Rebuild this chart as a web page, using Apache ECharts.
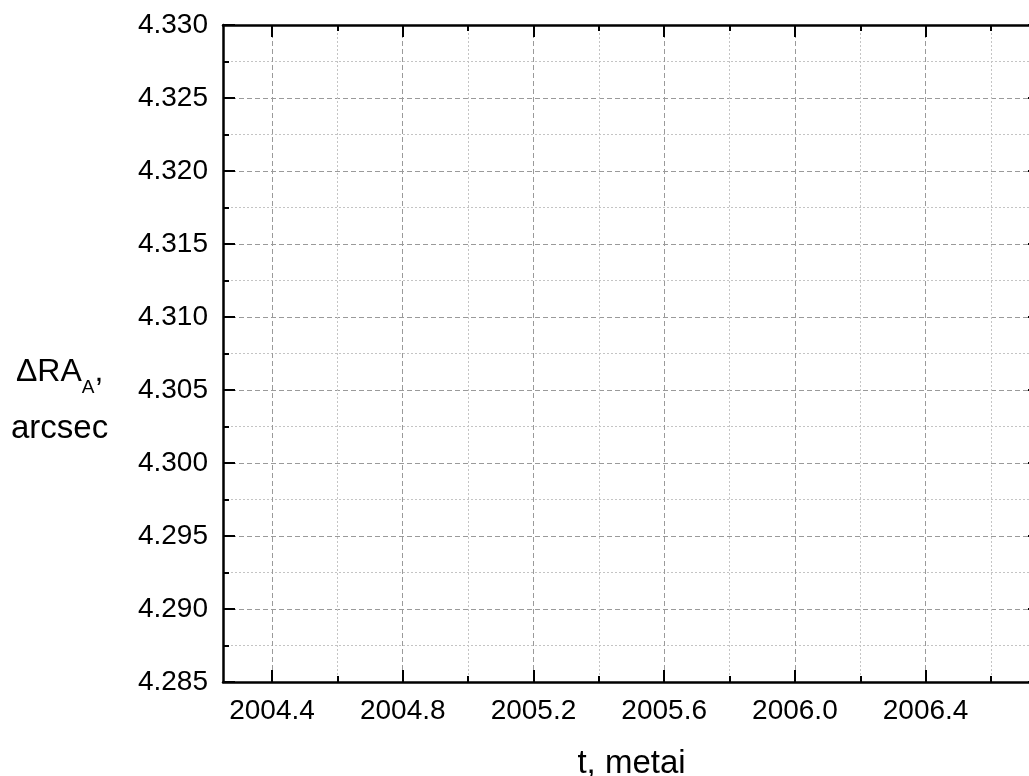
<!DOCTYPE html>
<html>
<head>
<meta charset="utf-8">
<script src="https://cdn.jsdelivr.net/npm/echarts@6/dist/echarts.min.js"></script>
<style>
html,body{margin:0;padding:0;background:#fff;}
#c{width:1029px;height:776px;}
</style>
</head>
<body>
<div id="c"></div>
<script>
// ---- data ----
const xRange = [2004.25, 2006.75];
const xMajorTicks = [2004.4, 2004.8, 2005.2, 2005.6, 2006.0, 2006.4];
const xMinorTicks = [2004.6, 2005.0, 2005.4, 2005.8, 2006.2, 2006.6];
const yRange = [4.285, 4.330];
const yStep = 0.005;
const xTitle = 't, metai';
const yTitleMain = 'ΔRA';
const yTitleSub = 'A';
const yTitleUnit = 'arcsec';
const seriesData = []; // the reference chart shows no data points

const FONT = 'Liberation Sans, Arial, sans-serif';
const chart = echarts.init(document.getElementById('c'), null, {renderer: 'canvas'});

const axisLineStyle = {show: true, onZero: false, lineStyle: {color: '#000', width: 2.5}};
const majorGrid = {show: true, lineStyle: {color: '#9a9a9a', width: 1, type: [5, 3]}};
const minorGrid = {show: true, lineStyle: {color: '#c4c4c4', width: 1, type: [2, 2]}};

function xAxisDef(pos, ticks, len, withLabels, split, line) {
  return {
    type: 'value', position: pos, min: xRange[0], max: xRange[1],
    axisLine: line ? axisLineStyle : {show: false, onZero: false},
    axisTick: {show: true, inside: true, length: len, customValues: ticks,
      lineStyle: {color: '#000', width: 2}},
    axisLabel: withLabels ? {show: true, customValues: ticks, margin: 15,
      fontFamily: FONT, fontSize: 28, color: '#000',
      formatter: v => v.toFixed(1)} : {show: false},
    splitLine: split || {show: false},
    name: pos === 'bottom' && withLabels ? xTitle : '',
    nameLocation: 'middle', nameGap: 65,
    nameTextStyle: {fontFamily: FONT, fontSize: 33, color: '#000'}
  };
}

function yAxisDef(pos, withLabels) {
  return {
    type: 'value', position: pos, min: yRange[0], max: yRange[1], interval: yStep,
    axisLine: axisLineStyle,
    axisTick: {show: true, inside: true, length: 12, lineStyle: {color: '#000', width: 2}},
    minorTick: {show: true, splitNumber: 2, length: 6, lineStyle: {color: '#000', width: 2}},
    axisLabel: withLabels ? {show: true, margin: 15, fontFamily: FONT, fontSize: 28,
      color: '#000', formatter: v => v.toFixed(3)} : {show: false},
    splitLine: withLabels ? majorGrid : {show: false},
    minorSplitLine: withLabels ? minorGrid : {show: false}
  };
}

chart.setOption({
  animation: false,
  backgroundColor: '#fff',
  grid: {left: 223, top: 25, height: 657, width: 817, containLabel: false, outerBoundsMode: 'none'},
  xAxis: [
    xAxisDef('bottom', xMajorTicks, 12, true, majorGrid, true),
    xAxisDef('bottom', xMinorTicks, 6, false, minorGrid, false),
    xAxisDef('top', xMajorTicks, 12, false, null, true),
    xAxisDef('top', xMinorTicks, 6, false, null, false)
  ],
  yAxis: [yAxisDef('left', true), yAxisDef('right', false)],
  graphic: [{
    type: 'text', left: 11, top: 356,
    style: {
      text: '{a|' + yTitleMain + '}{s|' + yTitleSub + '}{a|,}\n{b|' + yTitleUnit + '}',
      align: 'center',
      rich: {
        a: {fontFamily: FONT, fontSize: 32, color: '#000', lineHeight: 50, align: 'center'},
        s: {fontFamily: FONT, fontSize: 19, color: '#000', lineHeight: 16, verticalAlign: 'bottom', align: 'center'},
        b: {fontFamily: FONT, fontSize: 33, color: '#000', lineHeight: 64, align: 'center'}
      }
    }
  }],
  series: [{type: 'line', xAxisIndex: 0, yAxisIndex: 0, data: seriesData, symbol: 'none'}]
});
</script>
</body>
</html>
